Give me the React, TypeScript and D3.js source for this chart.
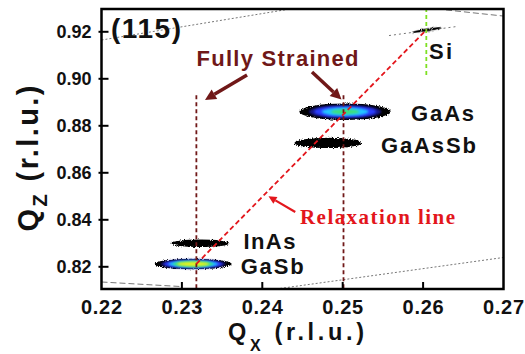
import * as d3 from 'd3'

const W = 525
const H = 354
const plot = { left: 101.5, right: 503.5, top: 9, bottom: 289 }

// axes
const xDomain = [0.22, 0.27]
const yDomain = [0.81055, 0.9297]
const xTicks = [0.22, 0.23, 0.24, 0.25, 0.26, 0.27]
const yTicks = [0.82, 0.84, 0.86, 0.88, 0.9, 0.92]

// reciprocal space peaks (centre, half extent of lowest contour, peak intensity)
const peakNames = ['GaSb', 'InAs', 'GaAsSb', 'GaAs', 'Si']
const peakQx = [0.2314, 0.2323, 0.2482, 0.2503, 0.2605]
const peakQz = [0.8212, 0.83, 0.8727, 0.886, 0.9208]
const peakHalfQx = [0.0048, 0.0036, 0.0042, 0.0057, 0.0019]
const peakHalfQz = [0.0022, 0.0016, 0.0022, 0.0035, 0.0006]
const peakMax = [1000, 5, 5, 250, 4]
const peakTilt = [0, 0, 0, 0, -9]

const contourLevels = [1, 8, 20, 60, 150, 300]
const contourColors = ['#060606', '#16168e', '#2b3dff', '#22c6ff', '#3ee07a', '#e4f024']

// reference lines
const strainedQx = [0.2318, 0.2501]
const strainedTopQz = 0.893
const relaxFrom = [0.2318, 0.8212]
const relaxTo = [0.2604, 0.9208]
const siLineQx = 0.2604
const siLineQz = [0.9016, 0.9297]

// gray scan-limit lines [qx1, qz1, qx2, qz2]
const guideLines = [
  [0.22, 0.9165, 0.24345, 0.9297],
  [0.26285, 0.9293, 0.27, 0.9267],
  [0.25576, 0.9184, 0.26422, 0.92226],
  [0.22, 0.81353, 0.22976, 0.81162],
  [0.2422, 0.81077, 0.27, 0.82396],
]
const guideDash = ['2,2', '6,3', '2,3', '6,3', '2,2']

// annotation arrows [qx tail, qz tail, qx tip, qz tip]
const strainArrows = [
  [0.2381, 0.9016, 0.23287, 0.891],
  [0.24618, 0.9029, 0.24985, 0.89119],
]
const relaxArrow = [0.2441, 0.84332, 0.24077, 0.85]

const labelDx = [47.5, 43, 52.7, 66, 2]
const labelDy = [10.5, 5.7, 9.7, 9.8, 28.6]
const labelLen = [63, 52, 95, 63, 23]

const SANS = '"Liberation Sans", Arial, sans-serif'
const SERIF = '"Liberation Serif", "Times New Roman", serif'
const STRAIN = '#701818'
const RELAX = '#e3161c'

function Arrow({ x1, y1, x2, y2, color, width, headLen, headW }: any) {
  const a = Math.atan2(y2 - y1, x2 - x1)
  const bx = x2 - headLen * Math.cos(a)
  const by = y2 - headLen * Math.sin(a)
  const px = Math.sin(a) * headW / 2
  const py = -Math.cos(a) * headW / 2
  return (
    <g>
      <line x1={x1} y1={y1} x2={bx} y2={by} stroke={color} strokeWidth={width} />
      <polygon points={`${x2},${y2} ${bx + px},${by + py} ${bx - px},${by - py}`} fill={color} />
    </g>
  )
}

export default function App() {
  const x = d3.scaleLinear().domain(xDomain).range([plot.left, plot.right])
  const y = d3.scaleLinear().domain(yDomain).range([plot.bottom, plot.top])
  const pw = plot.right - plot.left
  const ph = plot.bottom - plot.top

  const peaks = peakNames.map((name, i) => {
    const cx = x(peakQx[i])
    const cy = y(peakQz[i])
    const rx0 = x(peakQx[i] + peakHalfQx[i]) - cx
    const ry0 = cy - y(peakQz[i] + peakHalfQz[i])
    const I = peakMax[i]
    const layers = contourLevels
      .map((L, k) => ({ L, k }))
      .filter((d) => d.L < I)
      .map(({ L, k }) => {
        const f = Math.sqrt(Math.log(I / L) / Math.log(I))
        return { rx: rx0 * f, ry: ry0 * f, color: contourColors[k], k }
      })
    return { name, cx, cy, layers, tilt: peakTilt[i], i }
  })

  return (
    <svg width={W} height={H} style={{ position: 'absolute', left: 0, top: 0, background: '#fff' }}>
      <defs>
        <clipPath id="plotClip">
          <rect x={plot.left} y={plot.top} width={pw} height={ph} />
        </clipPath>
        <filter id="rough" x="-30%" y="-80%" width="160%" height="260%">
          <feTurbulence type="fractalNoise" baseFrequency="0.9" numOctaves="2" seed="4" result="n" />
          <feDisplacementMap in="SourceGraphic" in2="n" scale="4" xChannelSelector="R" yChannelSelector="G" />
        </filter>
        <filter id="soft" x="-30%" y="-80%" width="160%" height="260%">
          <feGaussianBlur stdDeviation="0.8" />
        </filter>
      </defs>

      <g clipPath="url(#plotClip)">
        {guideLines.map((l, i) => (
          <line key={i} x1={x(l[0])} y1={y(l[1])} x2={x(l[2])} y2={y(l[3])}
            stroke="#777" strokeWidth={1} strokeDasharray={guideDash[i]} />
        ))}

        {peaks.map((p) => (
          <g key={p.name} transform={`translate(${p.cx},${p.cy}) rotate(${p.tilt})`}>
            {p.layers.map((l) => (
              <ellipse key={l.k} rx={l.rx} ry={l.ry} fill={l.color}
                filter={l.k === 0 ? 'url(#rough)' : 'url(#soft)'} />
            ))}
          </g>
        ))}

        {strainedQx.map((q) => (
          <line key={q} x1={x(q)} x2={x(q)} y1={y(strainedTopQz)} y2={plot.bottom}
            stroke={STRAIN} strokeWidth={1.8} strokeDasharray="4,3" />
        ))}
        <line x1={x(siLineQx)} x2={x(siLineQx)} y1={y(siLineQz[0])} y2={y(siLineQz[1])}
          stroke="#7ee021" strokeWidth={1.8} strokeDasharray="4,3" />
        <line x1={x(relaxFrom[0])} y1={y(relaxFrom[1])} x2={x(relaxTo[0])} y2={y(relaxTo[1])}
          stroke={RELAX} strokeWidth={1.8} strokeDasharray="5,3" />
      </g>

      {/* frame & ticks */}
      <rect x={plot.left} y={plot.top} width={pw} height={ph} fill="none" stroke="#000" strokeWidth={2.5} />
      {yTicks.map((t) => (
        <line key={t} x1={plot.left - 3} x2={plot.left + 7} y1={y(t)} y2={y(t)} stroke="#000" strokeWidth={2} />
      ))}
      {xTicks.slice(1, -1).map((t) => (
        <line key={t} x1={x(t)} x2={x(t)} y1={plot.bottom} y2={plot.bottom - 7} stroke="#000" strokeWidth={2} />
      ))}

      {yTicks.map((t) => (
        <text key={t} x={91.5} y={y(t)} dy="0.35em" textAnchor="end" fontFamily={SANS}
          fontWeight="bold" fontSize={18} fill="#111">{t.toFixed(2)}</text>
      ))}
      {xTicks.map((t) => (
        <text key={t} x={x(t)} y={313.5} textAnchor="middle" fontFamily={SANS}
          fontWeight="bold" fontSize={20} fill="#111" textLength={41}>{t.toFixed(2)}</text>
      ))}

      {/* axis titles */}
      <text x={228} y={339.5} fontFamily={SANS} fontWeight="bold" fontSize={23.5} fill="#111" textLength={136}>
        Q<tspan fontSize={16} dy={11}>X</tspan><tspan dy={-11}> (r.l.u.)</tspan>
      </text>
      <text transform="translate(38,158.5) rotate(-90)" textAnchor="middle" fontFamily={SANS}
        fontWeight="bold" fontSize={29} fill="#111" textLength={146}>
        Q<tspan fontSize={20} dy={9}>Z</tspan><tspan dy={-9}> (r.l.u.)</tspan>
      </text>

      {/* annotations */}
      <text x={111} y={38} fontFamily={SANS} fontWeight="bold" fontSize={28} fill="#111" textLength={70}>(115)</text>
      <text x={196.5} y={66} fontFamily={SANS} fontWeight="bold" fontSize={22} fill={STRAIN} textLength={162}>
        Fully Strained
      </text>
      {strainArrows.map((a, i) => (
        <Arrow key={i} x1={x(a[0])} y1={y(a[1])} x2={x(a[2])} y2={y(a[3])}
          color={STRAIN} width={3.5} headLen={11} headW={11} />
      ))}
      <Arrow x1={x(relaxArrow[0])} y1={y(relaxArrow[1])} x2={x(relaxArrow[2])} y2={y(relaxArrow[3])}
        color={RELAX} width={2.2} headLen={8} headW={8} />
      <text x={300} y={224} fontFamily={SERIF} fontWeight="bold" fontSize={21} fill={RELAX} textLength={155}>
        Relaxation line
      </text>

      {peaks.map((p) => (
        <text key={p.name} x={p.cx + labelDx[p.i]} y={p.cy + labelDy[p.i]} fontFamily={SANS}
          fontWeight="bold" fontSize={22} fill="#111" textLength={labelLen[p.i]}>{p.name}</text>
      ))}
    </svg>
  )
}
